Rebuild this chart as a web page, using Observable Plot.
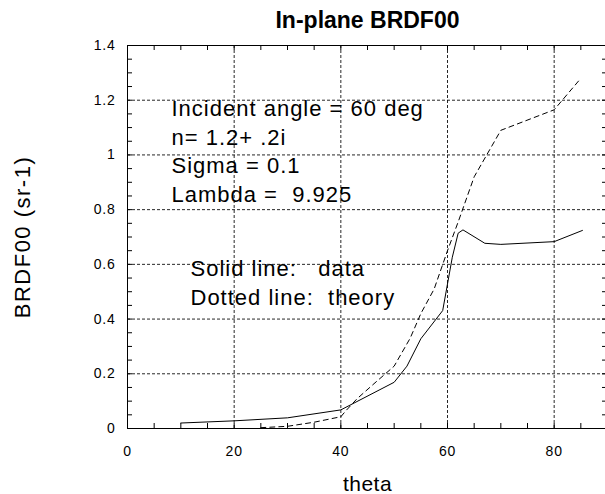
<!DOCTYPE html>
<html><head><meta charset="utf-8">
<script src="https://cdn.jsdelivr.net/npm/d3@7"></script>
<script src="https://cdn.jsdelivr.net/npm/@observablehq/plot@0.6"></script>
<style>
body{margin:0;background:#fff;}
#chart svg text{font-family:"Liberation Sans", Arial, sans-serif;}
g[aria-label="x-axis tick label"] text, g[aria-label="y-axis tick label"] text{letter-spacing:0.8px;}
.ann text{letter-spacing:1px;}
.ylab text{letter-spacing:1.5px;}
.xlab text{letter-spacing:0.5px;}
</style>
</head><body><div id="chart"></div>
<script>
// measured data (solid line)
const dataTheta = [10, 20, 30, 40, 50, 52.4, 55, 59.1, 60.9, 62, 62.9, 67, 70, 80, 85.3];
const dataBrdf  = [0.02, 0.028, 0.039, 0.068, 0.169, 0.228, 0.328, 0.431, 0.626, 0.714, 0.726, 0.677, 0.673, 0.683, 0.724];
// theory (dashed line)
const theoryTheta = [25, 30, 35, 40, 41, 43, 46, 50, 53, 55, 57.5, 60, 62, 65, 70, 80, 85];
const theoryBrdf  = [0.003, 0.008, 0.023, 0.043, 0.066, 0.108, 0.16, 0.228, 0.33, 0.42, 0.51, 0.65, 0.755, 0.92, 1.09, 1.165, 1.28];
// axes
const xTicks = [0, 20, 40, 60, 80];
const yTicks = [0, 0.2, 0.4, 0.6, 0.8, 1, 1.2, 1.4];
const xGrid = [20, 40, 60, 80];
const yGrid = [0.2, 0.4, 0.6, 0.8, 1, 1.2];
const xMinor = d3.range(5, 90, 5);
const yMinor = d3.range(1, 28).map(i => i * 0.05);
// texts
const titleText = "In-plane BRDF00";
const xLabel = "theta";
const yLabel = "BRDF00 (sr-1)";
const annotation1 = ["Incident angle = 60 deg", "n= 1.2+ .2i", "Sigma = 0.1", "Lambda =\u00a0 9.925"];
const annotation2 = ["Solid line:\u00a0\u00a0 data", "Dotted line:\u00a0 theory"];

const measured = dataTheta.map((t, i) => ({theta: t, brdf: dataBrdf[i]}));
const theory = theoryTheta.map((t, i) => ({theta: t, brdf: theoryBrdf[i]}));

const chart = Plot.plot({
  width: 605, height: 494,
  marginLeft: 127, marginRight: -2, marginTop: 45, marginBottom: 66,
  style: {background: "#fff", color: "#000", fontFamily: "Liberation Sans, Arial, sans-serif"},
  x: {domain: [0, 90]},
  y: {domain: [0, 1.4]},
  marks: [
    Plot.ruleX(xGrid, {x: d => d, stroke: "#000", strokeWidth: 1, strokeDasharray: "3,2", strokeOpacity: 0.85}),
    Plot.ruleY(yGrid, {y: d => d, stroke: "#000", strokeWidth: 1, strokeDasharray: "3,2", strokeOpacity: 0.85}),
    Plot.ruleX(xMinor, {x: d => d, insetTop: 378, stroke: "#000"}),
    Plot.ruleX(xMinor, {x: d => d, insetBottom: 378, stroke: "#000"}),
    Plot.ruleY(yMinor, {y: d => d, insetRight: 475, stroke: "#000"}),
    Plot.ruleY(yMinor, {y: d => d, insetLeft: 475, stroke: "#000"}),
    Plot.frame({stroke: "#000", strokeWidth: 1}),
    Plot.line(theory, {x: "theta", y: "brdf", stroke: "#000", strokeWidth: 1, strokeDasharray: "5,4"}),
    Plot.line(measured, {x: "theta", y: "brdf", stroke: "#000", strokeWidth: 1}),
    Plot.axisX(xTicks, {tickSize: 0, tickPadding: 18, fontSize: 14, label: null, tickFormat: d => String(d)}),
    Plot.axisY(yTicks, {tickSize: 0, tickPadding: 12, fontSize: 14, label: null, tickFormat: d => String(d)}),
    Plot.text([titleText], {text: d => d, frameAnchor: "top", lineAnchor: "bottom", dy: -18, fontSize: 23, fontWeight: "bold"}),
    Plot.text([xLabel], {text: d => d, frameAnchor: "bottom", lineAnchor: "bottom", dy: 62, fontSize: 21, className: "xlab"}),
    Plot.text([yLabel], {text: d => d, frameAnchor: "left", textAnchor: "middle", rotate: -90, dx: -105, fontSize: 22, className: "ylab"}),
    Plot.text([annotation1.join("\n")], {text: d => d, frameAnchor: "top-left", textAnchor: "start", lineAnchor: "bottom", dx: 44, dy: 156, fontSize: 22, lineHeight: 1.29, className: "ann"}),
    Plot.text([annotation2.join("\n")], {text: d => d, frameAnchor: "top-left", textAnchor: "start", lineAnchor: "bottom", dx: 63, dy: 259, fontSize: 22, lineHeight: 1.29, className: "ann"})
  ]
});
document.getElementById("chart").appendChild(chart);
</script>
</body></html>
